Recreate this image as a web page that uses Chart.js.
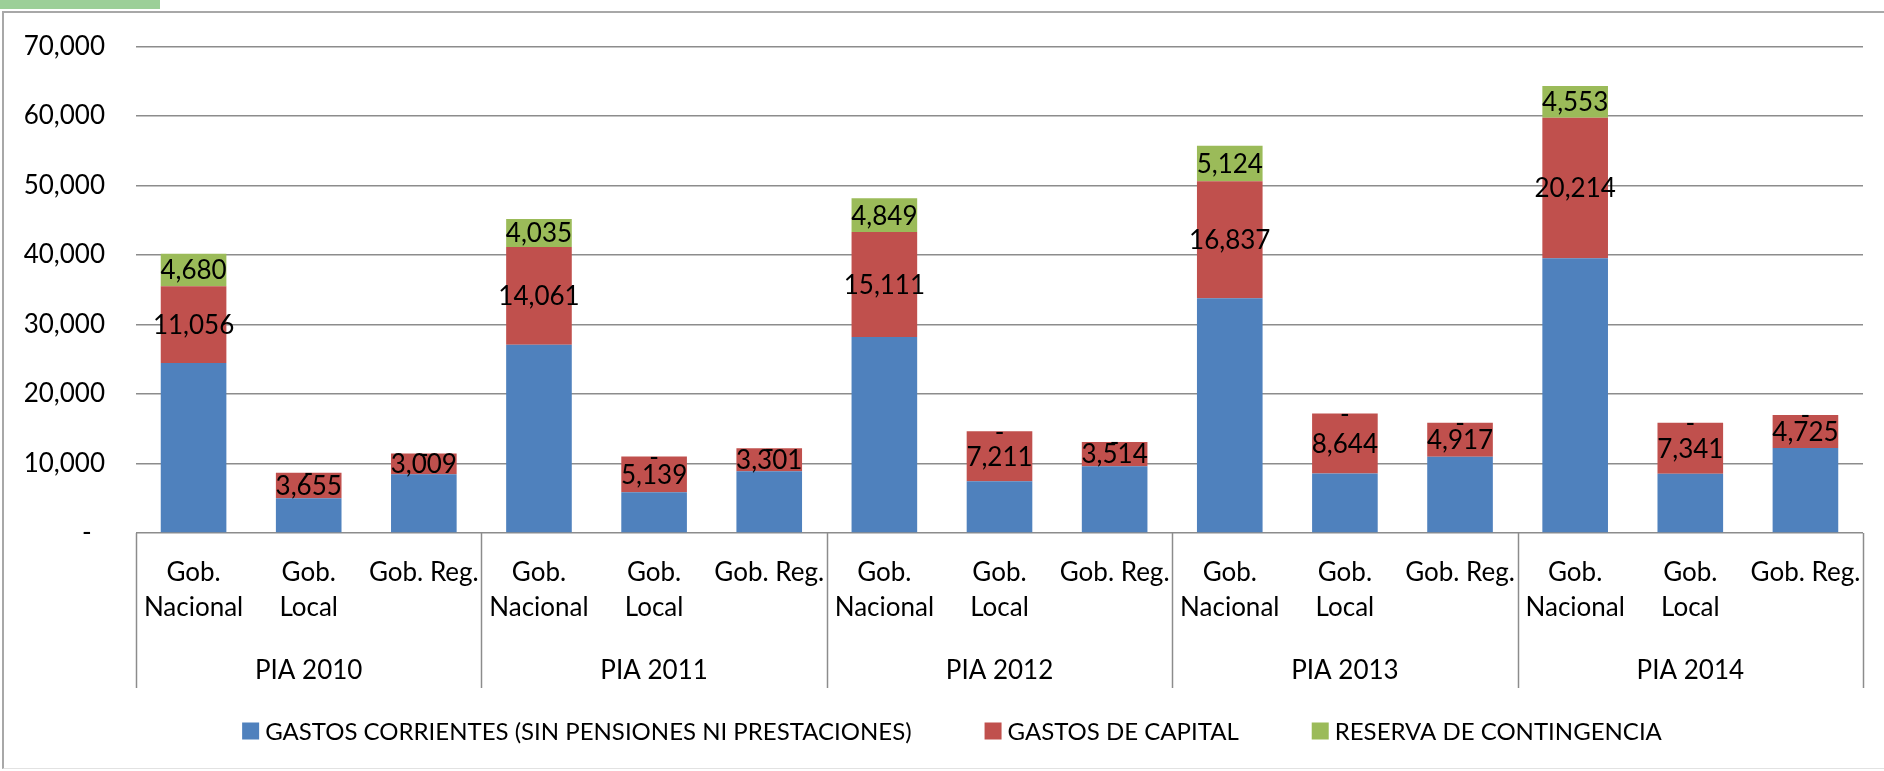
<!DOCTYPE html>
<html>
<head>
<meta charset="utf-8">
<title>PIA 2010-2014</title>
<script src="https://cdn.jsdelivr.net/npm/chart.js@4.4.1/dist/chart.umd.min.js"></script>
<style>
  html, body { margin: 0; padding: 0; background: #fff; }
  body { width: 1884px; height: 771px; position: relative; overflow: hidden; }
  #tab { position: absolute; left: 0; top: 0; width: 160px; height: 9px; background: #9ccf98; }
  #frame { position: absolute; left: 2px; top: 11px; width: 1900px; height: 755px;
           border-left: 2px solid #a8a8a8; border-top: 2px solid #a8a8a8; border-bottom: 1px solid #e2e2e2; }
  #chart { position: absolute; left: 0; top: 0; }
</style>
</head>
<body>
<div id="tab"></div>
<div id="frame"></div>
<canvas id="chart" width="1884" height="771"></canvas>
<script>
// ---- data ----
const years = ["PIA 2010", "PIA 2011", "PIA 2012", "PIA 2013", "PIA 2014"];
const levels = [["Gob.", "Nacional"], ["Gob.", "Local"], "Gob. Reg."];
const categories = years.flatMap(() => levels);

const seriesNames = [
  "GASTOS CORRIENTES (SIN PENSIONES NI PRESTACIONES)",
  "GASTOS DE CAPITAL",
  "RESERVA DE CONTINGENCIA"
];
const seriesColors = ["#4f81bd", "#c0504d", "#9bbb59"];

const gastosCorrientes = [24450, 5000, 8450, 27100, 5870, 8900, 28200, 7450, 9600, 33780, 8560, 10960, 39550, 8540, 12250];
const gastosCapital    = [11056, 3655, 3009, 14061, 5139, 3301, 15111, 7211, 3514, 16837, 8644, 4917, 20214, 7341, 4725];
const reserva          = [4680, 0, 0, 4035, 0, 0, 4849, 0, 0, 5124, 0, 0, 4553, 0, 0];

const yMax = 70000;
const yStep = 10000;

Chart.defaults.font.family = "Lato, 'Open Sans', sans-serif";
Chart.defaults.color = "#000";

function fmt(v) {
  return v === 0 ? "-" : v.toLocaleString("en-US");
}

// labels in the middle of the red / green pieces
const segmentLabels = {
  id: "segmentLabels",
  afterDatasetsDraw(chart) {
    const ctx = chart.ctx;
    ctx.save();
    ctx.font = "26px Lato, 'Open Sans', sans-serif";
    ctx.fillStyle = "#000";
    ctx.textAlign = "center";
    ctx.textBaseline = "middle";
    chart.data.datasets.forEach((ds, di) => {
      if (di === 0) return;
      chart.getDatasetMeta(di).data.forEach((bar, i) => {
        const p = bar.getProps(["x", "y", "base"], true);
        ctx.fillText(fmt(ds.data[i]), p.x, (p.y + p.base) / 2 + 1);
      });
    });
    ctx.restore();
  }
};

// vertical separators of the year groups
const groupLines = {
  id: "groupLines",
  afterDraw(chart) {
    const x2 = chart.scales.x2;
    const ctx = chart.ctx;
    ctx.save();
    ctx.strokeStyle = "#8c8c8c";
    ctx.lineWidth = 1.5;
    for (let i = 0; i <= years.length; i++) {
      const px = Math.round(x2.getPixelForDecimal(i / years.length)) + 0.5;
      ctx.beginPath();
      ctx.moveTo(px, chart.chartArea.bottom);
      ctx.lineTo(px, x2.bottom);
      ctx.stroke();
    }
    ctx.restore();
  }
};

// legend row under the axis
const bottomLegend = {
  id: "bottomLegend",
  afterDraw(chart) {
    const ctx = chart.ctx;
    const box = 17, gapText = 6, gapItem = 73;
    ctx.save();
    ctx.font = "24px Lato, 'Open Sans', sans-serif";
    ctx.textBaseline = "middle";
    ctx.textAlign = "left";
    const widths = chart.data.datasets.map(ds => box + gapText + ctx.measureText(ds.label).width);
    const total = widths.reduce((a, b) => a + b, 0) + gapItem * (widths.length - 1);
    let x = chart.width / 2 + 10 - total / 2;
    const y = chart.height - 40;
    chart.data.datasets.forEach((ds, i) => {
      ctx.fillStyle = ds.backgroundColor;
      ctx.fillRect(x, y - box / 2, box, box);
      ctx.fillStyle = "#000";
      ctx.fillText(ds.label, x + box + gapText, y + 1);
      x += widths[i] + gapItem;
    });
    ctx.restore();
  }
};

new Chart(document.getElementById("chart"), {
  type: "bar",
  data: {
    labels: categories,
    datasets: [
      { label: seriesNames[0], data: gastosCorrientes, backgroundColor: seriesColors[0] },
      { label: seriesNames[1], data: gastosCapital, backgroundColor: seriesColors[1] },
      { label: seriesNames[2], data: reserva, backgroundColor: seriesColors[2] }
    ]
  },
  options: {
    responsive: false,
    animation: false,
    events: [],
    datasets: { bar: { categoryPercentage: 1, barPercentage: 0.57, borderWidth: 0 } },
    layout: { padding: { left: 0, right: 21, top: 44, bottom: 83 } },
    plugins: {
      legend: { display: false },
      tooltip: { enabled: false }
    },
    scales: {
      x: {
        stacked: true,
        grid: { display: false },
        border: { display: false },
        ticks: { font: { size: 26, lineHeight: 1.35 }, color: "#000", padding: 14, maxRotation: 0, autoSkip: false },
        afterFit(s) { s.height = 95; }
      },
      x2: {
        type: "category",
        labels: years,
        position: "bottom",
        weight: 1,
        offset: true,
        grid: { display: false },
        border: { display: false },
        ticks: { font: { size: 26, lineHeight: 1.35 }, color: "#000", padding: 17, maxRotation: 0 },
        afterFit(s) { s.height = 60; }
      },
      y: {
        stacked: true,
        min: 0,
        max: yMax,
        ticks: {
          stepSize: yStep,
          font: { size: 26 },
          color: "#000",
          padding: 31,
          callback: v => v === 0 ? "-  " : v.toLocaleString("en-US")
        },
        grid: { color: "#8c8c8c", lineWidth: 1.5, drawTicks: false },
        border: { display: false },
        afterFit(s) { s.width = 136; }
      }
    }
  },
  plugins: [segmentLabels, groupLines, bottomLegend]
});
</script>
</body>
</html>
